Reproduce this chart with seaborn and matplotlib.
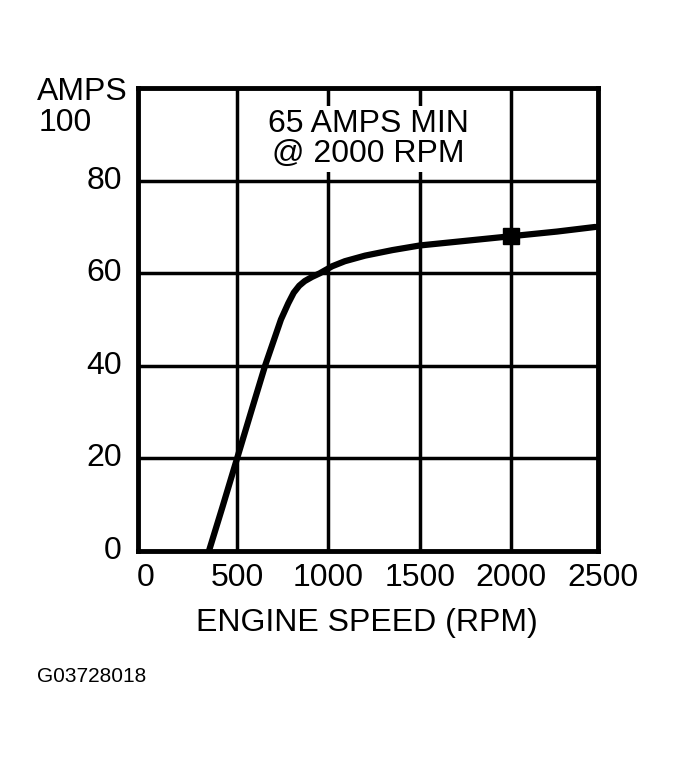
import matplotlib
matplotlib.use("Agg")
import matplotlib.pyplot as plt
import seaborn as sns
import pandas as pd

rpm = [346, 420, 500, 580, 653, 740, 780, 810, 840, 870, 910, 953, 1020, 1090, 1200, 1350, 1500, 1750, 2000, 2250, 2460]
amps = [0, 9.5, 20, 30.5, 40, 50, 53.5, 55.8, 57.3, 58.3, 59.2, 60, 61.5, 62.6, 63.8, 65, 66, 67, 68, 69, 70]
marker_rpm = [2000]
marker_amps = [68]
x_ticks = [0, 500, 1000, 1500, 2000, 2500]
y_ticks = [0, 20, 40, 60, 80]

sns.set_style("white")
plt.rcParams['font.family'] = ['Liberation Sans', 'DejaVu Sans']
plt.rcParams['text.color'] = 'black'

fig = plt.figure(figsize=(6.89, 7.59), dpi=100)
ax = fig.add_axes([0.2003, 0.274, 0.6677, 0.610])
df = pd.DataFrame({"rpm": rpm, "amps": amps})
sns.lineplot(data=df, x="rpm", y="amps", ax=ax, color="black", linewidth=4.5)
ax.plot(marker_rpm, marker_amps, marker="s", color="black", markersize=11, linestyle="none")

ax.set_xlim(-42, 2475)
ax.set_ylim(0, 100)
for v in [500, 1000, 1500, 2000]:
    ax.axvline(v, color="black", lw=2.5, zorder=0)
for v in [20, 40, 60, 80]:
    ax.axhline(v, color="black", lw=2.5, zorder=0)
for s in ax.spines.values():
    s.set_linewidth(3.5)
    s.set_color("black")

ax.set_xticks([])
ax.set_yticks([])
ax.set_xlabel("")
ax.set_ylabel("")
fs = 23
for t in x_ticks:
    xf = (145.7 + 0.1827 * t) / 689
    fig.text(xf, 1 - 578 / 759, str(t), ha="center", va="center", fontsize=fs)
for t in y_ticks:
    ax.text(-0.035, t, str(t), transform=ax.get_yaxis_transform(), ha="right", va="center", fontsize=fs)
fig.text(128 / 689, 1 - 92 / 759, "AMPS", ha="right", va="center", fontsize=fs)
fig.text(92 / 689, 1 - 123 / 759, "100", ha="right", va="center", fontsize=fs)
fig.text(368 / 689, 1 - 139 / 759, "65 AMPS MIN\n@ 2000 RPM", ha="center", va="center", fontsize=fs,
         linespacing=1.0, bbox=dict(facecolor="white", edgecolor="none", pad=2))
fig.text(367 / 689, 1 - 623 / 759, "ENGINE SPEED (RPM)", ha="center", va="center", fontsize=fs)
fig.text(37 / 689, 1 - 677 / 759, "G03728018", ha="left", va="center", fontsize=15)

fig.savefig("out.png", dpi=100)
